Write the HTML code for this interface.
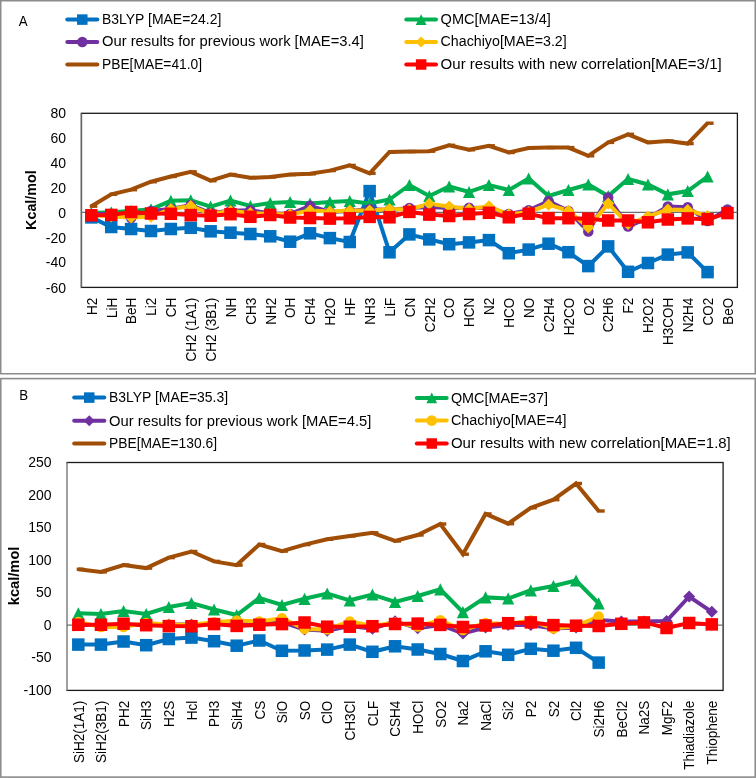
<!DOCTYPE html>
<html><head><meta charset="utf-8"><style>
html,body{margin:0;padding:0;background:#fff;}
svg{display:block;will-change:transform;}
</style></head><body>
<svg width="756" height="778" viewBox="0 0 756 778" font-family='"Liberation Sans", sans-serif'>
<rect width="756" height="778" fill="#fff"/>
<rect x="0.75" y="0.75" width="754.5" height="373" fill="none" stroke="#8C8C8C" stroke-width="1.5"/>
<rect x="0.75" y="378.6" width="754.5" height="398.5" fill="none" stroke="#8C8C8C" stroke-width="1.6"/>
<text x="0" y="0" font-size="13.3" transform="translate(18.7,25.8) scale(1,1.08)" >A</text>
<line x1="67.3" y1="19.6" x2="97.3" y2="19.6" stroke="#0070C0" stroke-width="4" stroke-linecap="round"/>
<rect x="77.05" y="14.35" width="10.5" height="10.5" fill="#0070C0"/>
<text x="102" y="23.8" font-size="14" textLength="119.4" lengthAdjust="spacingAndGlyphs" >B3LYP [MAE=24.2]</text>
<line x1="67.3" y1="42" x2="97.3" y2="42" stroke="#7030A0" stroke-width="4" stroke-linecap="round"/>
<circle cx="82.3" cy="42" r="5.3" fill="#7030A0"/>
<text x="102" y="46.2" font-size="14" textLength="261.9" lengthAdjust="spacingAndGlyphs" >Our results for previous work [MAE=3.4]</text>
<line x1="67.3" y1="64.5" x2="97.3" y2="64.5" stroke="#A04D06" stroke-width="4" stroke-linecap="round"/>
<text x="102" y="68.7" font-size="14" textLength="100.1" lengthAdjust="spacingAndGlyphs" >PBE[MAE=41.0]</text>
<line x1="406.3" y1="19.6" x2="436" y2="19.6" stroke="#00B050" stroke-width="4" stroke-linecap="round"/>
<polygon points="421.15,14.2 426.55,25 415.75,25" fill="#00B050"/>
<text x="440.6" y="23.8" font-size="14" textLength="110.2" lengthAdjust="spacingAndGlyphs" >QMC[MAE=13/4]</text>
<line x1="406.3" y1="42" x2="436" y2="42" stroke="#FFC000" stroke-width="4" stroke-linecap="round"/>
<polygon points="421.15,36.5 426.65,42 421.15,47.5 415.65,42" fill="#FFC000"/>
<text x="440.6" y="46.2" font-size="14" textLength="126.1" lengthAdjust="spacingAndGlyphs" >Chachiyo[MAE=3.2]</text>
<line x1="406.3" y1="64.5" x2="436" y2="64.5" stroke="#FF0000" stroke-width="4" stroke-linecap="round"/>
<rect x="415.9" y="59.25" width="10.5" height="10.5" fill="#FF0000"/>
<text x="440.6" y="68.7" font-size="14" textLength="281.1" lengthAdjust="spacingAndGlyphs" >Our results with new correlation[MAE=3/1]</text>
<text x="0" y="0" font-size="14" text-anchor="middle" font-weight="bold" textLength="59.6" lengthAdjust="spacingAndGlyphs" transform="translate(36.4,200.1) rotate(-90)" >Kcal/mol</text>
<rect x="81.4" y="113.3" width="656" height="174.1" fill="none" stroke="#1a1a1a" stroke-width="1.3"/>
<line x1="81.4" y1="114.3" x2="81.4" y2="286.4" stroke="#fff" stroke-width="1.6"/>
<line x1="81.4" y1="113.3" x2="81.4" y2="287.4" stroke="#666" stroke-width="1.5"/>
<line x1="81.4" y1="212.4" x2="737.4" y2="212.4" stroke="#6e6e6e" stroke-width="1.3"/>
<text x="0" y="0" font-size="14" text-anchor="end" transform="translate(66,118.4) scale(1,1.06)" >80</text>
<text x="0" y="0" font-size="14" text-anchor="end" transform="translate(66,143.3) scale(1,1.06)" >60</text>
<text x="0" y="0" font-size="14" text-anchor="end" transform="translate(66,168) scale(1,1.06)" >40</text>
<text x="0" y="0" font-size="14" text-anchor="end" transform="translate(66,192.9) scale(1,1.06)" >20</text>
<text x="0" y="0" font-size="14" text-anchor="end" transform="translate(66,217.7) scale(1,1.06)" >0</text>
<text x="0" y="0" font-size="14" text-anchor="end" transform="translate(66,242.6) scale(1,1.06)" >-20</text>
<text x="0" y="0" font-size="14" text-anchor="end" transform="translate(66,267.4) scale(1,1.06)" >-40</text>
<text x="0" y="0" font-size="14" text-anchor="end" transform="translate(66,292.5) scale(1,1.06)" >-60</text>
<text x="0" y="0" font-size="13.5" text-anchor="end" transform="translate(96.64,297.8) rotate(-90) scale(1,1.1)" >H2</text>
<text x="0" y="0" font-size="13.5" text-anchor="end" transform="translate(116.52,297.8) rotate(-90) scale(1,1.1)" >LiH</text>
<text x="0" y="0" font-size="13.5" text-anchor="end" transform="translate(136.4,297.8) rotate(-90) scale(1,1.1)" >BeH</text>
<text x="0" y="0" font-size="13.5" text-anchor="end" transform="translate(156.28,297.8) rotate(-90) scale(1,1.1)" >Li2</text>
<text x="0" y="0" font-size="13.5" text-anchor="end" transform="translate(176.15,297.8) rotate(-90) scale(1,1.1)" >CH</text>
<text x="0" y="0" font-size="13.5" text-anchor="end" transform="translate(196.03,297.8) rotate(-90) scale(1,1.1)" >CH2 (1A1)</text>
<text x="0" y="0" font-size="13.5" text-anchor="end" transform="translate(215.91,297.8) rotate(-90) scale(1,1.1)" >CH2 (3B1)</text>
<text x="0" y="0" font-size="13.5" text-anchor="end" transform="translate(235.79,297.8) rotate(-90) scale(1,1.1)" >NH</text>
<text x="0" y="0" font-size="13.5" text-anchor="end" transform="translate(255.67,297.8) rotate(-90) scale(1,1.1)" >CH3</text>
<text x="0" y="0" font-size="13.5" text-anchor="end" transform="translate(275.55,297.8) rotate(-90) scale(1,1.1)" >NH2</text>
<text x="0" y="0" font-size="13.5" text-anchor="end" transform="translate(295.43,297.8) rotate(-90) scale(1,1.1)" >OH</text>
<text x="0" y="0" font-size="13.5" text-anchor="end" transform="translate(315.31,297.8) rotate(-90) scale(1,1.1)" >CH4</text>
<text x="0" y="0" font-size="13.5" text-anchor="end" transform="translate(335.18,297.8) rotate(-90) scale(1,1.1)" >H2O</text>
<text x="0" y="0" font-size="13.5" text-anchor="end" transform="translate(355.06,297.8) rotate(-90) scale(1,1.1)" >HF</text>
<text x="0" y="0" font-size="13.5" text-anchor="end" transform="translate(374.94,297.8) rotate(-90) scale(1,1.1)" >NH3</text>
<text x="0" y="0" font-size="13.5" text-anchor="end" transform="translate(394.82,297.8) rotate(-90) scale(1,1.1)" >LiF</text>
<text x="0" y="0" font-size="13.5" text-anchor="end" transform="translate(414.7,297.8) rotate(-90) scale(1,1.1)" >CN</text>
<text x="0" y="0" font-size="13.5" text-anchor="end" transform="translate(434.58,297.8) rotate(-90) scale(1,1.1)" >C2H2</text>
<text x="0" y="0" font-size="13.5" text-anchor="end" transform="translate(454.46,297.8) rotate(-90) scale(1,1.1)" >CO</text>
<text x="0" y="0" font-size="13.5" text-anchor="end" transform="translate(474.34,297.8) rotate(-90) scale(1,1.1)" >HCN</text>
<text x="0" y="0" font-size="13.5" text-anchor="end" transform="translate(494.22,297.8) rotate(-90) scale(1,1.1)" >N2</text>
<text x="0" y="0" font-size="13.5" text-anchor="end" transform="translate(514.09,297.8) rotate(-90) scale(1,1.1)" >HCO</text>
<text x="0" y="0" font-size="13.5" text-anchor="end" transform="translate(533.97,297.8) rotate(-90) scale(1,1.1)" >NO</text>
<text x="0" y="0" font-size="13.5" text-anchor="end" transform="translate(553.85,297.8) rotate(-90) scale(1,1.1)" >C2H4</text>
<text x="0" y="0" font-size="13.5" text-anchor="end" transform="translate(573.73,297.8) rotate(-90) scale(1,1.1)" >H2CO</text>
<text x="0" y="0" font-size="13.5" text-anchor="end" transform="translate(593.61,297.8) rotate(-90) scale(1,1.1)" >O2</text>
<text x="0" y="0" font-size="13.5" text-anchor="end" transform="translate(613.49,297.8) rotate(-90) scale(1,1.1)" >C2H6</text>
<text x="0" y="0" font-size="13.5" text-anchor="end" transform="translate(633.37,297.8) rotate(-90) scale(1,1.1)" >F2</text>
<text x="0" y="0" font-size="13.5" text-anchor="end" transform="translate(653.25,297.8) rotate(-90) scale(1,1.1)" >H2O2</text>
<text x="0" y="0" font-size="13.5" text-anchor="end" transform="translate(673.12,297.8) rotate(-90) scale(1,1.1)" >H3COH</text>
<text x="0" y="0" font-size="13.5" text-anchor="end" transform="translate(693,297.8) rotate(-90) scale(1,1.1)" >N2H4</text>
<text x="0" y="0" font-size="13.5" text-anchor="end" transform="translate(712.88,297.8) rotate(-90) scale(1,1.1)" >CO2</text>
<text x="0" y="0" font-size="13.5" text-anchor="end" transform="translate(732.76,297.8) rotate(-90) scale(1,1.1)" >BeO</text>
<polyline points="91.34,217.4 111.22,227 131.1,229 150.98,231 170.85,229 190.73,227.8 210.61,231.3 230.49,232.7 250.37,234 270.25,236.3 290.13,241.7 310.01,233.3 329.88,238.1 349.76,242 369.64,191.1 389.52,252.3 409.4,234.4 429.28,239.4 449.16,244.2 469.04,242.4 488.92,240.1 508.79,253.2 528.67,249.6 548.55,243.7 568.43,252.2 588.31,266.1 608.19,246.4 628.07,271.8 647.95,263 667.82,254.6 687.7,252.4 707.58,272.1" fill="none" stroke="#0070C0" stroke-width="4" stroke-linejoin="miter" stroke-miterlimit="6" stroke-linecap="butt"/>
<polyline points="91.34,213 111.22,212.3 131.1,211 150.98,209.3 170.85,200.8 190.73,200.3 210.61,206.6 230.49,200.5 250.37,206 270.25,203 290.13,202 310.01,203.5 329.88,202 349.76,201 369.64,203.5 389.52,199.5 409.4,185 429.28,196 449.16,186.5 469.04,192 488.92,185 508.79,190 528.67,178.5 548.55,196 568.43,190 588.31,184.5 608.19,196 628.07,179 647.95,184.5 667.82,194.3 687.7,191 707.58,176.5" fill="none" stroke="#00B050" stroke-width="4" stroke-linejoin="miter" stroke-miterlimit="6" stroke-linecap="butt"/>
<polyline points="91.34,214 111.22,214 131.1,218 150.98,211 170.85,209 190.73,205 210.61,213 230.49,210.8 250.37,210.2 270.25,213.5 290.13,214 310.01,205.8 329.88,212 349.76,211 369.64,209 389.52,210 409.4,208 429.28,207 449.16,208 469.04,207.7 488.92,208 508.79,214 528.67,210.3 548.55,201.1 568.43,211 588.31,231.5 608.19,197.4 628.07,226.5 647.95,218 667.82,206.4 687.7,207.3 707.58,221 727.46,209.5" fill="none" stroke="#7030A0" stroke-width="4" stroke-linejoin="miter" stroke-miterlimit="6" stroke-linecap="butt"/>
<polyline points="91.34,215 111.22,216.5 131.1,217.5 150.98,216.8 170.85,209 190.73,206 210.61,214 230.49,211 250.37,213 270.25,214 290.13,214.5 310.01,210.5 329.88,211.5 349.76,210.5 369.64,210.5 389.52,209 409.4,209.5 429.28,203.8 449.16,206.5 469.04,209 488.92,206.2 508.79,214.5 528.67,212 548.55,204.7 568.43,210.8 588.31,227.5 608.19,203.6 628.07,224 647.95,216.5 667.82,209.5 687.7,210 707.58,216" fill="none" stroke="#FFC000" stroke-width="4" stroke-linejoin="miter" stroke-miterlimit="6" stroke-linecap="butt"/>
<polyline points="91.34,206.2 111.22,194.3 131.1,189.7 150.98,181.7 170.85,176.5 190.73,171.8 210.61,180.7 230.49,174.5 250.37,177.8 270.25,177 290.13,174.6 310.01,173.8 329.88,170.6 349.76,165.4 369.64,173.3 389.52,152 409.4,151.6 429.28,151.2 449.16,145.3 469.04,149.8 488.92,145.8 508.79,152.5 528.67,148 548.55,147.6 568.43,147.6 588.31,155.8 608.19,142.4 628.07,134.3 647.95,142.4 667.82,141 687.7,143.6 707.58,123.2" fill="none" stroke="#A04D06" stroke-width="4" stroke-linejoin="miter" stroke-miterlimit="6" stroke-linecap="butt"/>
<polyline points="91.34,215.3 111.22,214.9 131.1,212 150.98,213.5 170.85,213.8 190.73,215.1 210.61,215.7 230.49,214.2 250.37,216.8 270.25,215 290.13,217.5 310.01,218 329.88,218.6 349.76,218.3 369.64,216.9 389.52,217.3 409.4,211.9 429.28,214.6 449.16,216 469.04,214 488.92,212.8 508.79,217.3 528.67,213.7 548.55,218.2 568.43,218.2 588.31,218.7 608.19,220.5 628.07,220.5 647.95,222.3 667.82,219.5 687.7,218.4 707.58,219.2 727.46,213.1" fill="none" stroke="#FF0000" stroke-width="4" stroke-linejoin="miter" stroke-miterlimit="6" stroke-linecap="butt"/>
<rect x="85.09" y="211.15" width="12.5" height="12.5" fill="#0070C0"/>
<rect x="104.97" y="220.75" width="12.5" height="12.5" fill="#0070C0"/>
<rect x="124.85" y="222.75" width="12.5" height="12.5" fill="#0070C0"/>
<rect x="144.73" y="224.75" width="12.5" height="12.5" fill="#0070C0"/>
<rect x="164.6" y="222.75" width="12.5" height="12.5" fill="#0070C0"/>
<rect x="184.48" y="221.55" width="12.5" height="12.5" fill="#0070C0"/>
<rect x="204.36" y="225.05" width="12.5" height="12.5" fill="#0070C0"/>
<rect x="224.24" y="226.45" width="12.5" height="12.5" fill="#0070C0"/>
<rect x="244.12" y="227.75" width="12.5" height="12.5" fill="#0070C0"/>
<rect x="264" y="230.05" width="12.5" height="12.5" fill="#0070C0"/>
<rect x="283.88" y="235.45" width="12.5" height="12.5" fill="#0070C0"/>
<rect x="303.76" y="227.05" width="12.5" height="12.5" fill="#0070C0"/>
<rect x="323.63" y="231.85" width="12.5" height="12.5" fill="#0070C0"/>
<rect x="343.51" y="235.75" width="12.5" height="12.5" fill="#0070C0"/>
<rect x="363.39" y="184.85" width="12.5" height="12.5" fill="#0070C0"/>
<rect x="383.27" y="246.05" width="12.5" height="12.5" fill="#0070C0"/>
<rect x="403.15" y="228.15" width="12.5" height="12.5" fill="#0070C0"/>
<rect x="423.03" y="233.15" width="12.5" height="12.5" fill="#0070C0"/>
<rect x="442.91" y="237.95" width="12.5" height="12.5" fill="#0070C0"/>
<rect x="462.79" y="236.15" width="12.5" height="12.5" fill="#0070C0"/>
<rect x="482.67" y="233.85" width="12.5" height="12.5" fill="#0070C0"/>
<rect x="502.54" y="246.95" width="12.5" height="12.5" fill="#0070C0"/>
<rect x="522.42" y="243.35" width="12.5" height="12.5" fill="#0070C0"/>
<rect x="542.3" y="237.45" width="12.5" height="12.5" fill="#0070C0"/>
<rect x="562.18" y="245.95" width="12.5" height="12.5" fill="#0070C0"/>
<rect x="582.06" y="259.85" width="12.5" height="12.5" fill="#0070C0"/>
<rect x="601.94" y="240.15" width="12.5" height="12.5" fill="#0070C0"/>
<rect x="621.82" y="265.55" width="12.5" height="12.5" fill="#0070C0"/>
<rect x="641.7" y="256.75" width="12.5" height="12.5" fill="#0070C0"/>
<rect x="661.57" y="248.35" width="12.5" height="12.5" fill="#0070C0"/>
<rect x="681.45" y="246.15" width="12.5" height="12.5" fill="#0070C0"/>
<rect x="701.33" y="265.85" width="12.5" height="12.5" fill="#0070C0"/>
<polygon points="91.34,206.9 97.44,219.1 85.24,219.1" fill="#00B050"/>
<polygon points="111.22,206.2 117.32,218.4 105.12,218.4" fill="#00B050"/>
<polygon points="131.1,204.9 137.2,217.1 125,217.1" fill="#00B050"/>
<polygon points="150.98,203.2 157.08,215.4 144.88,215.4" fill="#00B050"/>
<polygon points="170.85,194.7 176.95,206.9 164.75,206.9" fill="#00B050"/>
<polygon points="190.73,194.2 196.83,206.4 184.63,206.4" fill="#00B050"/>
<polygon points="210.61,200.5 216.71,212.7 204.51,212.7" fill="#00B050"/>
<polygon points="230.49,194.4 236.59,206.6 224.39,206.6" fill="#00B050"/>
<polygon points="250.37,199.9 256.47,212.1 244.27,212.1" fill="#00B050"/>
<polygon points="270.25,196.9 276.35,209.1 264.15,209.1" fill="#00B050"/>
<polygon points="290.13,195.9 296.23,208.1 284.03,208.1" fill="#00B050"/>
<polygon points="310.01,197.4 316.11,209.6 303.91,209.6" fill="#00B050"/>
<polygon points="329.88,195.9 335.98,208.1 323.78,208.1" fill="#00B050"/>
<polygon points="349.76,194.9 355.86,207.1 343.66,207.1" fill="#00B050"/>
<polygon points="369.64,197.4 375.74,209.6 363.54,209.6" fill="#00B050"/>
<polygon points="389.52,193.4 395.62,205.6 383.42,205.6" fill="#00B050"/>
<polygon points="409.4,178.9 415.5,191.1 403.3,191.1" fill="#00B050"/>
<polygon points="429.28,189.9 435.38,202.1 423.18,202.1" fill="#00B050"/>
<polygon points="449.16,180.4 455.26,192.6 443.06,192.6" fill="#00B050"/>
<polygon points="469.04,185.9 475.14,198.1 462.94,198.1" fill="#00B050"/>
<polygon points="488.92,178.9 495.02,191.1 482.82,191.1" fill="#00B050"/>
<polygon points="508.79,183.9 514.89,196.1 502.69,196.1" fill="#00B050"/>
<polygon points="528.67,172.4 534.77,184.6 522.57,184.6" fill="#00B050"/>
<polygon points="548.55,189.9 554.65,202.1 542.45,202.1" fill="#00B050"/>
<polygon points="568.43,183.9 574.53,196.1 562.33,196.1" fill="#00B050"/>
<polygon points="588.31,178.4 594.41,190.6 582.21,190.6" fill="#00B050"/>
<polygon points="608.19,189.9 614.29,202.1 602.09,202.1" fill="#00B050"/>
<polygon points="628.07,172.9 634.17,185.1 621.97,185.1" fill="#00B050"/>
<polygon points="647.95,178.4 654.05,190.6 641.85,190.6" fill="#00B050"/>
<polygon points="667.82,188.2 673.92,200.4 661.72,200.4" fill="#00B050"/>
<polygon points="687.7,184.9 693.8,197.1 681.6,197.1" fill="#00B050"/>
<polygon points="707.58,170.4 713.68,182.6 701.48,182.6" fill="#00B050"/>
<circle cx="91.34" cy="214" r="5.25" fill="#7030A0"/>
<circle cx="111.22" cy="214" r="5.25" fill="#7030A0"/>
<circle cx="131.1" cy="218" r="5.25" fill="#7030A0"/>
<circle cx="150.98" cy="211" r="5.25" fill="#7030A0"/>
<circle cx="170.85" cy="209" r="5.25" fill="#7030A0"/>
<circle cx="190.73" cy="205" r="5.25" fill="#7030A0"/>
<circle cx="210.61" cy="213" r="5.25" fill="#7030A0"/>
<circle cx="230.49" cy="210.8" r="5.25" fill="#7030A0"/>
<circle cx="250.37" cy="210.2" r="5.25" fill="#7030A0"/>
<circle cx="270.25" cy="213.5" r="5.25" fill="#7030A0"/>
<circle cx="290.13" cy="214" r="5.25" fill="#7030A0"/>
<circle cx="310.01" cy="205.8" r="5.25" fill="#7030A0"/>
<circle cx="329.88" cy="212" r="5.25" fill="#7030A0"/>
<circle cx="349.76" cy="211" r="5.25" fill="#7030A0"/>
<circle cx="369.64" cy="209" r="5.25" fill="#7030A0"/>
<circle cx="389.52" cy="210" r="5.25" fill="#7030A0"/>
<circle cx="409.4" cy="208" r="5.25" fill="#7030A0"/>
<circle cx="429.28" cy="207" r="5.25" fill="#7030A0"/>
<circle cx="449.16" cy="208" r="5.25" fill="#7030A0"/>
<circle cx="469.04" cy="207.7" r="5.25" fill="#7030A0"/>
<circle cx="488.92" cy="208" r="5.25" fill="#7030A0"/>
<circle cx="508.79" cy="214" r="5.25" fill="#7030A0"/>
<circle cx="528.67" cy="210.3" r="5.25" fill="#7030A0"/>
<circle cx="548.55" cy="201.1" r="5.25" fill="#7030A0"/>
<circle cx="568.43" cy="211" r="5.25" fill="#7030A0"/>
<circle cx="588.31" cy="231.5" r="5.25" fill="#7030A0"/>
<circle cx="608.19" cy="197.4" r="5.25" fill="#7030A0"/>
<circle cx="628.07" cy="226.5" r="5.25" fill="#7030A0"/>
<circle cx="647.95" cy="218" r="5.25" fill="#7030A0"/>
<circle cx="667.82" cy="206.4" r="5.25" fill="#7030A0"/>
<circle cx="687.7" cy="207.3" r="5.25" fill="#7030A0"/>
<circle cx="707.58" cy="221" r="5.25" fill="#7030A0"/>
<circle cx="727.46" cy="209.5" r="5.25" fill="#7030A0"/>
<polygon points="91.34,209 97.34,215 91.34,221 85.34,215" fill="#FFC000"/>
<polygon points="111.22,210.5 117.22,216.5 111.22,222.5 105.22,216.5" fill="#FFC000"/>
<polygon points="131.1,211.5 137.1,217.5 131.1,223.5 125.1,217.5" fill="#FFC000"/>
<polygon points="150.98,210.8 156.98,216.8 150.98,222.8 144.98,216.8" fill="#FFC000"/>
<polygon points="170.85,203 176.85,209 170.85,215 164.85,209" fill="#FFC000"/>
<polygon points="190.73,200 196.73,206 190.73,212 184.73,206" fill="#FFC000"/>
<polygon points="210.61,208 216.61,214 210.61,220 204.61,214" fill="#FFC000"/>
<polygon points="230.49,205 236.49,211 230.49,217 224.49,211" fill="#FFC000"/>
<polygon points="250.37,207 256.37,213 250.37,219 244.37,213" fill="#FFC000"/>
<polygon points="270.25,208 276.25,214 270.25,220 264.25,214" fill="#FFC000"/>
<polygon points="290.13,208.5 296.13,214.5 290.13,220.5 284.13,214.5" fill="#FFC000"/>
<polygon points="310.01,204.5 316.01,210.5 310.01,216.5 304.01,210.5" fill="#FFC000"/>
<polygon points="329.88,205.5 335.88,211.5 329.88,217.5 323.88,211.5" fill="#FFC000"/>
<polygon points="349.76,204.5 355.76,210.5 349.76,216.5 343.76,210.5" fill="#FFC000"/>
<polygon points="369.64,204.5 375.64,210.5 369.64,216.5 363.64,210.5" fill="#FFC000"/>
<polygon points="389.52,203 395.52,209 389.52,215 383.52,209" fill="#FFC000"/>
<polygon points="409.4,203.5 415.4,209.5 409.4,215.5 403.4,209.5" fill="#FFC000"/>
<polygon points="429.28,197.8 435.28,203.8 429.28,209.8 423.28,203.8" fill="#FFC000"/>
<polygon points="449.16,200.5 455.16,206.5 449.16,212.5 443.16,206.5" fill="#FFC000"/>
<polygon points="469.04,203 475.04,209 469.04,215 463.04,209" fill="#FFC000"/>
<polygon points="488.92,200.2 494.92,206.2 488.92,212.2 482.92,206.2" fill="#FFC000"/>
<polygon points="508.79,208.5 514.79,214.5 508.79,220.5 502.79,214.5" fill="#FFC000"/>
<polygon points="528.67,206 534.67,212 528.67,218 522.67,212" fill="#FFC000"/>
<polygon points="548.55,198.7 554.55,204.7 548.55,210.7 542.55,204.7" fill="#FFC000"/>
<polygon points="568.43,204.8 574.43,210.8 568.43,216.8 562.43,210.8" fill="#FFC000"/>
<polygon points="588.31,221.5 594.31,227.5 588.31,233.5 582.31,227.5" fill="#FFC000"/>
<polygon points="608.19,197.6 614.19,203.6 608.19,209.6 602.19,203.6" fill="#FFC000"/>
<polygon points="628.07,218 634.07,224 628.07,230 622.07,224" fill="#FFC000"/>
<polygon points="647.95,210.5 653.95,216.5 647.95,222.5 641.95,216.5" fill="#FFC000"/>
<polygon points="667.82,203.5 673.82,209.5 667.82,215.5 661.82,209.5" fill="#FFC000"/>
<polygon points="687.7,204 693.7,210 687.7,216 681.7,210" fill="#FFC000"/>
<polygon points="707.58,210 713.58,216 707.58,222 701.58,216" fill="#FFC000"/>
<rect x="89.74" y="204.5" width="7.6" height="3.4" fill="#A04D06"/>
<rect x="109.62" y="192.6" width="7.6" height="3.4" fill="#A04D06"/>
<rect x="129.5" y="188" width="7.6" height="3.4" fill="#A04D06"/>
<rect x="149.38" y="180" width="7.6" height="3.4" fill="#A04D06"/>
<rect x="169.25" y="174.8" width="7.6" height="3.4" fill="#A04D06"/>
<rect x="189.13" y="170.1" width="7.6" height="3.4" fill="#A04D06"/>
<rect x="209.01" y="179" width="7.6" height="3.4" fill="#A04D06"/>
<rect x="228.89" y="172.8" width="7.6" height="3.4" fill="#A04D06"/>
<rect x="248.77" y="176.1" width="7.6" height="3.4" fill="#A04D06"/>
<rect x="268.65" y="175.3" width="7.6" height="3.4" fill="#A04D06"/>
<rect x="288.53" y="172.9" width="7.6" height="3.4" fill="#A04D06"/>
<rect x="308.41" y="172.1" width="7.6" height="3.4" fill="#A04D06"/>
<rect x="328.28" y="168.9" width="7.6" height="3.4" fill="#A04D06"/>
<rect x="348.16" y="163.7" width="7.6" height="3.4" fill="#A04D06"/>
<rect x="368.04" y="171.6" width="7.6" height="3.4" fill="#A04D06"/>
<rect x="387.92" y="150.3" width="7.6" height="3.4" fill="#A04D06"/>
<rect x="407.8" y="149.9" width="7.6" height="3.4" fill="#A04D06"/>
<rect x="427.68" y="149.5" width="7.6" height="3.4" fill="#A04D06"/>
<rect x="447.56" y="143.6" width="7.6" height="3.4" fill="#A04D06"/>
<rect x="467.44" y="148.1" width="7.6" height="3.4" fill="#A04D06"/>
<rect x="487.32" y="144.1" width="7.6" height="3.4" fill="#A04D06"/>
<rect x="507.19" y="150.8" width="7.6" height="3.4" fill="#A04D06"/>
<rect x="527.07" y="146.3" width="7.6" height="3.4" fill="#A04D06"/>
<rect x="546.95" y="145.9" width="7.6" height="3.4" fill="#A04D06"/>
<rect x="566.83" y="145.9" width="7.6" height="3.4" fill="#A04D06"/>
<rect x="586.71" y="154.1" width="7.6" height="3.4" fill="#A04D06"/>
<rect x="606.59" y="140.7" width="7.6" height="3.4" fill="#A04D06"/>
<rect x="626.47" y="132.6" width="7.6" height="3.4" fill="#A04D06"/>
<rect x="646.35" y="140.7" width="7.6" height="3.4" fill="#A04D06"/>
<rect x="666.22" y="139.3" width="7.6" height="3.4" fill="#A04D06"/>
<rect x="686.1" y="141.9" width="7.6" height="3.4" fill="#A04D06"/>
<rect x="705.98" y="121.5" width="7.6" height="3.4" fill="#A04D06"/>
<rect x="85.09" y="209.05" width="12.5" height="12.5" fill="#FF0000"/>
<rect x="104.97" y="208.65" width="12.5" height="12.5" fill="#FF0000"/>
<rect x="124.85" y="205.75" width="12.5" height="12.5" fill="#FF0000"/>
<rect x="144.73" y="207.25" width="12.5" height="12.5" fill="#FF0000"/>
<rect x="164.6" y="207.55" width="12.5" height="12.5" fill="#FF0000"/>
<rect x="184.48" y="208.85" width="12.5" height="12.5" fill="#FF0000"/>
<rect x="204.36" y="209.45" width="12.5" height="12.5" fill="#FF0000"/>
<rect x="224.24" y="207.95" width="12.5" height="12.5" fill="#FF0000"/>
<rect x="244.12" y="210.55" width="12.5" height="12.5" fill="#FF0000"/>
<rect x="264" y="208.75" width="12.5" height="12.5" fill="#FF0000"/>
<rect x="283.88" y="211.25" width="12.5" height="12.5" fill="#FF0000"/>
<rect x="303.76" y="211.75" width="12.5" height="12.5" fill="#FF0000"/>
<rect x="323.63" y="212.35" width="12.5" height="12.5" fill="#FF0000"/>
<rect x="343.51" y="212.05" width="12.5" height="12.5" fill="#FF0000"/>
<rect x="363.39" y="210.65" width="12.5" height="12.5" fill="#FF0000"/>
<rect x="383.27" y="211.05" width="12.5" height="12.5" fill="#FF0000"/>
<rect x="403.15" y="205.65" width="12.5" height="12.5" fill="#FF0000"/>
<rect x="423.03" y="208.35" width="12.5" height="12.5" fill="#FF0000"/>
<rect x="442.91" y="209.75" width="12.5" height="12.5" fill="#FF0000"/>
<rect x="462.79" y="207.75" width="12.5" height="12.5" fill="#FF0000"/>
<rect x="482.67" y="206.55" width="12.5" height="12.5" fill="#FF0000"/>
<rect x="502.54" y="211.05" width="12.5" height="12.5" fill="#FF0000"/>
<rect x="522.42" y="207.45" width="12.5" height="12.5" fill="#FF0000"/>
<rect x="542.3" y="211.95" width="12.5" height="12.5" fill="#FF0000"/>
<rect x="562.18" y="211.95" width="12.5" height="12.5" fill="#FF0000"/>
<rect x="582.06" y="212.45" width="12.5" height="12.5" fill="#FF0000"/>
<rect x="601.94" y="214.25" width="12.5" height="12.5" fill="#FF0000"/>
<rect x="621.82" y="214.25" width="12.5" height="12.5" fill="#FF0000"/>
<rect x="641.7" y="216.05" width="12.5" height="12.5" fill="#FF0000"/>
<rect x="661.57" y="213.25" width="12.5" height="12.5" fill="#FF0000"/>
<rect x="681.45" y="212.15" width="12.5" height="12.5" fill="#FF0000"/>
<rect x="701.33" y="212.95" width="12.5" height="12.5" fill="#FF0000"/>
<rect x="721.21" y="206.85" width="12.5" height="12.5" fill="#FF0000"/>
<text x="0" y="0" font-size="13.3" transform="translate(19.2,399.5) scale(1,1.08)" >B</text>
<line x1="74.2" y1="397.6" x2="104.3" y2="397.6" stroke="#0070C0" stroke-width="4" stroke-linecap="round"/>
<rect x="84" y="392.35" width="10.5" height="10.5" fill="#0070C0"/>
<text x="109" y="402.4" font-size="14" textLength="119.1" lengthAdjust="spacingAndGlyphs" >B3LYP [MAE=35.3]</text>
<line x1="74.2" y1="420.7" x2="104.3" y2="420.7" stroke="#7030A0" stroke-width="4" stroke-linecap="round"/>
<polygon points="89.25,415.2 94.75,420.7 89.25,426.2 83.75,420.7" fill="#7030A0"/>
<text x="109" y="425.5" font-size="14" textLength="262.4" lengthAdjust="spacingAndGlyphs" >Our results for previous work [MAE=4.5]</text>
<line x1="74.2" y1="443.5" x2="104.3" y2="443.5" stroke="#A04D06" stroke-width="4" stroke-linecap="round"/>
<text x="109" y="448.3" font-size="14" textLength="108.1" lengthAdjust="spacingAndGlyphs" >PBE[MAE=130.6]</text>
<line x1="416.8" y1="397.9" x2="446.7" y2="397.9" stroke="#00B050" stroke-width="4" stroke-linecap="round"/>
<polygon points="431.75,392.5 437.15,403.3 426.35,403.3" fill="#00B050"/>
<text x="450.9" y="402.7" font-size="14" textLength="97.1" lengthAdjust="spacingAndGlyphs" >QMC[MAE=37]</text>
<line x1="416.8" y1="420.6" x2="446.7" y2="420.6" stroke="#FFC000" stroke-width="4" stroke-linecap="round"/>
<circle cx="431.75" cy="420.6" r="5.3" fill="#FFC000"/>
<text x="450.9" y="425.4" font-size="14" textLength="115.5" lengthAdjust="spacingAndGlyphs" >Chachiyo[MAE=4]</text>
<line x1="416.8" y1="443.5" x2="446.7" y2="443.5" stroke="#FF0000" stroke-width="4" stroke-linecap="round"/>
<rect x="426.5" y="438.25" width="10.5" height="10.5" fill="#FF0000"/>
<text x="450.9" y="448.3" font-size="14" textLength="279.9" lengthAdjust="spacingAndGlyphs" >Our results with new correlation[MAE=1.8]</text>
<text x="0" y="0" font-size="14" text-anchor="middle" font-weight="bold" textLength="58.6" lengthAdjust="spacingAndGlyphs" transform="translate(18.7,575.9) rotate(-90)" >kcal/mol</text>
<rect x="67" y="462.5" width="656.1" height="227.9" fill="none" stroke="#1a1a1a" stroke-width="1.3"/>
<line x1="67" y1="463.5" x2="67" y2="689.4" stroke="#fff" stroke-width="1.6"/>
<line x1="67" y1="462.5" x2="67" y2="690.4" stroke="#8a8a8a" stroke-width="1.5"/>
<line x1="67" y1="625.1" x2="723.1" y2="625.1" stroke="#6e6e6e" stroke-width="1.3"/>
<text x="0" y="0" font-size="14" text-anchor="end" transform="translate(51.5,467.3) scale(1,1.06)" >250</text>
<text x="0" y="0" font-size="14" text-anchor="end" transform="translate(51.5,499.7) scale(1,1.06)" >200</text>
<text x="0" y="0" font-size="14" text-anchor="end" transform="translate(51.5,532.1) scale(1,1.06)" >150</text>
<text x="0" y="0" font-size="14" text-anchor="end" transform="translate(51.5,564.7) scale(1,1.06)" >100</text>
<text x="0" y="0" font-size="14" text-anchor="end" transform="translate(51.5,597.3) scale(1,1.06)" >50</text>
<text x="0" y="0" font-size="14" text-anchor="end" transform="translate(51.5,630) scale(1,1.06)" >0</text>
<text x="0" y="0" font-size="14" text-anchor="end" transform="translate(51.5,662.4) scale(1,1.06)" >-50</text>
<text x="0" y="0" font-size="14" text-anchor="end" transform="translate(51.5,694.9) scale(1,1.06)" >-100</text>
<text x="0" y="0" font-size="13.5" text-anchor="end" transform="translate(83.61,700.8) rotate(-90) scale(1,1.1)" >SiH2(1A1)</text>
<text x="0" y="0" font-size="13.5" text-anchor="end" transform="translate(106.24,700.8) rotate(-90) scale(1,1.1)" >SiH2(3B1)</text>
<text x="0" y="0" font-size="13.5" text-anchor="end" transform="translate(128.86,700.8) rotate(-90) scale(1,1.1)" >PH2</text>
<text x="0" y="0" font-size="13.5" text-anchor="end" transform="translate(151.48,700.8) rotate(-90) scale(1,1.1)" >SiH3</text>
<text x="0" y="0" font-size="13.5" text-anchor="end" transform="translate(174.11,700.8) rotate(-90) scale(1,1.1)" >H2S</text>
<text x="0" y="0" font-size="13.5" text-anchor="end" transform="translate(196.73,700.8) rotate(-90) scale(1,1.1)" >Hcl</text>
<text x="0" y="0" font-size="13.5" text-anchor="end" transform="translate(219.36,700.8) rotate(-90) scale(1,1.1)" >PH3</text>
<text x="0" y="0" font-size="13.5" text-anchor="end" transform="translate(241.98,700.8) rotate(-90) scale(1,1.1)" >SiH4</text>
<text x="0" y="0" font-size="13.5" text-anchor="end" transform="translate(264.61,700.8) rotate(-90) scale(1,1.1)" >CS</text>
<text x="0" y="0" font-size="13.5" text-anchor="end" transform="translate(287.23,700.8) rotate(-90) scale(1,1.1)" >SiO</text>
<text x="0" y="0" font-size="13.5" text-anchor="end" transform="translate(309.85,700.8) rotate(-90) scale(1,1.1)" >SO</text>
<text x="0" y="0" font-size="13.5" text-anchor="end" transform="translate(332.48,700.8) rotate(-90) scale(1,1.1)" >ClO</text>
<text x="0" y="0" font-size="13.5" text-anchor="end" transform="translate(355.1,700.8) rotate(-90) scale(1,1.1)" >CH3Cl</text>
<text x="0" y="0" font-size="13.5" text-anchor="end" transform="translate(377.73,700.8) rotate(-90) scale(1,1.1)" >CLF</text>
<text x="0" y="0" font-size="13.5" text-anchor="end" transform="translate(400.35,700.8) rotate(-90) scale(1,1.1)" >CSH4</text>
<text x="0" y="0" font-size="13.5" text-anchor="end" transform="translate(422.97,700.8) rotate(-90) scale(1,1.1)" >HOCl</text>
<text x="0" y="0" font-size="13.5" text-anchor="end" transform="translate(445.6,700.8) rotate(-90) scale(1,1.1)" >SO2</text>
<text x="0" y="0" font-size="13.5" text-anchor="end" transform="translate(468.22,700.8) rotate(-90) scale(1,1.1)" >Na2</text>
<text x="0" y="0" font-size="13.5" text-anchor="end" transform="translate(490.85,700.8) rotate(-90) scale(1,1.1)" >NaCl</text>
<text x="0" y="0" font-size="13.5" text-anchor="end" transform="translate(513.47,700.8) rotate(-90) scale(1,1.1)" >Si2</text>
<text x="0" y="0" font-size="13.5" text-anchor="end" transform="translate(536.09,700.8) rotate(-90) scale(1,1.1)" >P2</text>
<text x="0" y="0" font-size="13.5" text-anchor="end" transform="translate(558.72,700.8) rotate(-90) scale(1,1.1)" >S2</text>
<text x="0" y="0" font-size="13.5" text-anchor="end" transform="translate(581.34,700.8) rotate(-90) scale(1,1.1)" >Cl2</text>
<text x="0" y="0" font-size="13.5" text-anchor="end" transform="translate(603.97,700.8) rotate(-90) scale(1,1.1)" >Si2H6</text>
<text x="0" y="0" font-size="13.5" text-anchor="end" transform="translate(626.59,700.8) rotate(-90) scale(1,1.1)" >BeCl2</text>
<text x="0" y="0" font-size="13.5" text-anchor="end" transform="translate(649.22,700.8) rotate(-90) scale(1,1.1)" >Na2S</text>
<text x="0" y="0" font-size="13.5" text-anchor="end" transform="translate(671.84,700.8) rotate(-90) scale(1,1.1)" >MgF2</text>
<text x="0" y="0" font-size="13.5" text-anchor="end" transform="translate(694.46,700.8) rotate(-90) scale(1,1.1)" >Thiadiazole</text>
<text x="0" y="0" font-size="13.5" text-anchor="end" transform="translate(717.09,700.8) rotate(-90) scale(1,1.1)" >Thiophene</text>
<polyline points="78.31,644.6 100.94,644.6 123.56,641.5 146.18,645.2 168.81,639 191.43,637.6 214.06,641.2 236.68,645.7 259.31,640.5 281.93,650.8 304.55,650.5 327.18,649.6 349.8,644.6 372.43,651.8 395.05,646.3 417.67,649.5 440.3,654 462.92,661 485.55,651.3 508.17,654.8 530.79,648.8 553.42,650.7 576.04,647.8 598.67,662.6" fill="none" stroke="#0070C0" stroke-width="4" stroke-linejoin="miter" stroke-miterlimit="6" stroke-linecap="butt"/>
<polyline points="78.31,613.3 100.94,614 123.56,611 146.18,614 168.81,607 191.43,603 214.06,609.5 236.68,615 259.31,598 281.93,605 304.55,598.8 327.18,593.5 349.8,600.3 372.43,594.5 395.05,602 417.67,596 440.3,589.3 462.92,612.2 485.55,597.4 508.17,598.5 530.79,590.3 553.42,586 576.04,580.5 598.67,603.3" fill="none" stroke="#00B050" stroke-width="4" stroke-linejoin="miter" stroke-miterlimit="6" stroke-linecap="butt"/>
<polyline points="78.31,625 100.94,625 123.56,625 146.18,625 168.81,624.5 191.43,624.5 214.06,624 236.68,622 259.31,622.5 281.93,622 304.55,629.4 327.18,630.7 349.8,626 372.43,628.7 395.05,621.3 417.67,628.3 440.3,625 462.92,633.5 485.55,627.5 508.17,625 530.79,625 553.42,628.6 576.04,627.4 598.67,620 621.29,621.5 643.92,621.5 666.54,621 689.16,596.5 711.79,611.8" fill="none" stroke="#7030A0" stroke-width="4" stroke-linejoin="miter" stroke-miterlimit="6" stroke-linecap="butt"/>
<polyline points="78.31,622 100.94,627 123.56,627 146.18,622.9 168.81,624.5 191.43,624.8 214.06,622.3 236.68,620.6 259.31,621.4 281.93,618.3 304.55,628.9 327.18,629.4 349.8,621.4 372.43,626 395.05,622.5 417.67,626.5 440.3,620.2 462.92,630 485.55,622.9 508.17,624 530.79,620.5 553.42,628.5 576.04,626 598.67,616.4" fill="none" stroke="#FFC000" stroke-width="4" stroke-linejoin="miter" stroke-miterlimit="6" stroke-linecap="butt"/>
<polyline points="78.31,569.3 100.94,571.9 123.56,565 146.18,568.1 168.81,557.6 191.43,551.5 214.06,561.4 236.68,565.1 259.31,544.5 281.93,551.1 304.55,544.6 327.18,539.3 349.8,536 372.43,532.8 395.05,541 417.67,535 440.3,524 462.92,554.2 485.55,513.9 508.17,523.7 530.79,507.8 553.42,499.7 576.04,483.5 598.67,511" fill="none" stroke="#A04D06" stroke-width="4" stroke-linejoin="miter" stroke-miterlimit="6" stroke-linecap="butt"/>
<polyline points="78.31,624.8 100.94,624.8 123.56,623.7 146.18,625.2 168.81,626.1 191.43,626.2 214.06,624.1 236.68,625.9 259.31,624.7 281.93,624.1 304.55,622.5 327.18,626.7 349.8,626.7 372.43,626.2 395.05,624 417.67,623.6 440.3,624.9 462.92,627 485.55,625.5 508.17,623.2 530.79,622.4 553.42,625.1 576.04,625.7 598.67,626 621.29,623.8 643.92,622.4 666.54,628 689.16,623 711.79,624.4" fill="none" stroke="#FF0000" stroke-width="4" stroke-linejoin="miter" stroke-miterlimit="6" stroke-linecap="butt"/>
<rect x="72.06" y="638.35" width="12.5" height="12.5" fill="#0070C0"/>
<rect x="94.69" y="638.35" width="12.5" height="12.5" fill="#0070C0"/>
<rect x="117.31" y="635.25" width="12.5" height="12.5" fill="#0070C0"/>
<rect x="139.93" y="638.95" width="12.5" height="12.5" fill="#0070C0"/>
<rect x="162.56" y="632.75" width="12.5" height="12.5" fill="#0070C0"/>
<rect x="185.18" y="631.35" width="12.5" height="12.5" fill="#0070C0"/>
<rect x="207.81" y="634.95" width="12.5" height="12.5" fill="#0070C0"/>
<rect x="230.43" y="639.45" width="12.5" height="12.5" fill="#0070C0"/>
<rect x="253.06" y="634.25" width="12.5" height="12.5" fill="#0070C0"/>
<rect x="275.68" y="644.55" width="12.5" height="12.5" fill="#0070C0"/>
<rect x="298.3" y="644.25" width="12.5" height="12.5" fill="#0070C0"/>
<rect x="320.93" y="643.35" width="12.5" height="12.5" fill="#0070C0"/>
<rect x="343.55" y="638.35" width="12.5" height="12.5" fill="#0070C0"/>
<rect x="366.18" y="645.55" width="12.5" height="12.5" fill="#0070C0"/>
<rect x="388.8" y="640.05" width="12.5" height="12.5" fill="#0070C0"/>
<rect x="411.42" y="643.25" width="12.5" height="12.5" fill="#0070C0"/>
<rect x="434.05" y="647.75" width="12.5" height="12.5" fill="#0070C0"/>
<rect x="456.67" y="654.75" width="12.5" height="12.5" fill="#0070C0"/>
<rect x="479.3" y="645.05" width="12.5" height="12.5" fill="#0070C0"/>
<rect x="501.92" y="648.55" width="12.5" height="12.5" fill="#0070C0"/>
<rect x="524.54" y="642.55" width="12.5" height="12.5" fill="#0070C0"/>
<rect x="547.17" y="644.45" width="12.5" height="12.5" fill="#0070C0"/>
<rect x="569.79" y="641.55" width="12.5" height="12.5" fill="#0070C0"/>
<rect x="592.42" y="656.35" width="12.5" height="12.5" fill="#0070C0"/>
<polygon points="78.31,607.2 84.41,619.4 72.21,619.4" fill="#00B050"/>
<polygon points="100.94,607.9 107.04,620.1 94.84,620.1" fill="#00B050"/>
<polygon points="123.56,604.9 129.66,617.1 117.46,617.1" fill="#00B050"/>
<polygon points="146.18,607.9 152.28,620.1 140.08,620.1" fill="#00B050"/>
<polygon points="168.81,600.9 174.91,613.1 162.71,613.1" fill="#00B050"/>
<polygon points="191.43,596.9 197.53,609.1 185.33,609.1" fill="#00B050"/>
<polygon points="214.06,603.4 220.16,615.6 207.96,615.6" fill="#00B050"/>
<polygon points="236.68,608.9 242.78,621.1 230.58,621.1" fill="#00B050"/>
<polygon points="259.31,591.9 265.41,604.1 253.21,604.1" fill="#00B050"/>
<polygon points="281.93,598.9 288.03,611.1 275.83,611.1" fill="#00B050"/>
<polygon points="304.55,592.7 310.65,604.9 298.45,604.9" fill="#00B050"/>
<polygon points="327.18,587.4 333.28,599.6 321.08,599.6" fill="#00B050"/>
<polygon points="349.8,594.2 355.9,606.4 343.7,606.4" fill="#00B050"/>
<polygon points="372.43,588.4 378.53,600.6 366.33,600.6" fill="#00B050"/>
<polygon points="395.05,595.9 401.15,608.1 388.95,608.1" fill="#00B050"/>
<polygon points="417.67,589.9 423.77,602.1 411.57,602.1" fill="#00B050"/>
<polygon points="440.3,583.2 446.4,595.4 434.2,595.4" fill="#00B050"/>
<polygon points="462.92,606.1 469.02,618.3 456.82,618.3" fill="#00B050"/>
<polygon points="485.55,591.3 491.65,603.5 479.45,603.5" fill="#00B050"/>
<polygon points="508.17,592.4 514.27,604.6 502.07,604.6" fill="#00B050"/>
<polygon points="530.79,584.2 536.89,596.4 524.69,596.4" fill="#00B050"/>
<polygon points="553.42,579.9 559.52,592.1 547.32,592.1" fill="#00B050"/>
<polygon points="576.04,574.4 582.14,586.6 569.94,586.6" fill="#00B050"/>
<polygon points="598.67,597.2 604.77,609.4 592.57,609.4" fill="#00B050"/>
<polygon points="78.31,619 84.31,625 78.31,631 72.31,625" fill="#7030A0"/>
<polygon points="100.94,619 106.94,625 100.94,631 94.94,625" fill="#7030A0"/>
<polygon points="123.56,619 129.56,625 123.56,631 117.56,625" fill="#7030A0"/>
<polygon points="146.18,619 152.18,625 146.18,631 140.18,625" fill="#7030A0"/>
<polygon points="168.81,618.5 174.81,624.5 168.81,630.5 162.81,624.5" fill="#7030A0"/>
<polygon points="191.43,618.5 197.43,624.5 191.43,630.5 185.43,624.5" fill="#7030A0"/>
<polygon points="214.06,618 220.06,624 214.06,630 208.06,624" fill="#7030A0"/>
<polygon points="236.68,616 242.68,622 236.68,628 230.68,622" fill="#7030A0"/>
<polygon points="259.31,616.5 265.31,622.5 259.31,628.5 253.31,622.5" fill="#7030A0"/>
<polygon points="281.93,616 287.93,622 281.93,628 275.93,622" fill="#7030A0"/>
<polygon points="304.55,623.4 310.55,629.4 304.55,635.4 298.55,629.4" fill="#7030A0"/>
<polygon points="327.18,624.7 333.18,630.7 327.18,636.7 321.18,630.7" fill="#7030A0"/>
<polygon points="349.8,620 355.8,626 349.8,632 343.8,626" fill="#7030A0"/>
<polygon points="372.43,622.7 378.43,628.7 372.43,634.7 366.43,628.7" fill="#7030A0"/>
<polygon points="395.05,615.3 401.05,621.3 395.05,627.3 389.05,621.3" fill="#7030A0"/>
<polygon points="417.67,622.3 423.67,628.3 417.67,634.3 411.67,628.3" fill="#7030A0"/>
<polygon points="440.3,619 446.3,625 440.3,631 434.3,625" fill="#7030A0"/>
<polygon points="462.92,627.5 468.92,633.5 462.92,639.5 456.92,633.5" fill="#7030A0"/>
<polygon points="485.55,621.5 491.55,627.5 485.55,633.5 479.55,627.5" fill="#7030A0"/>
<polygon points="508.17,619 514.17,625 508.17,631 502.17,625" fill="#7030A0"/>
<polygon points="530.79,619 536.79,625 530.79,631 524.79,625" fill="#7030A0"/>
<polygon points="553.42,622.6 559.42,628.6 553.42,634.6 547.42,628.6" fill="#7030A0"/>
<polygon points="576.04,621.4 582.04,627.4 576.04,633.4 570.04,627.4" fill="#7030A0"/>
<polygon points="598.67,614 604.67,620 598.67,626 592.67,620" fill="#7030A0"/>
<polygon points="621.29,615.5 627.29,621.5 621.29,627.5 615.29,621.5" fill="#7030A0"/>
<polygon points="643.92,615.5 649.92,621.5 643.92,627.5 637.92,621.5" fill="#7030A0"/>
<polygon points="666.54,615 672.54,621 666.54,627 660.54,621" fill="#7030A0"/>
<polygon points="689.16,590.5 695.16,596.5 689.16,602.5 683.16,596.5" fill="#7030A0"/>
<polygon points="711.79,605.8 717.79,611.8 711.79,617.8 705.79,611.8" fill="#7030A0"/>
<circle cx="78.31" cy="622" r="5.25" fill="#FFC000"/>
<circle cx="100.94" cy="627" r="5.25" fill="#FFC000"/>
<circle cx="123.56" cy="627" r="5.25" fill="#FFC000"/>
<circle cx="146.18" cy="622.9" r="5.25" fill="#FFC000"/>
<circle cx="168.81" cy="624.5" r="5.25" fill="#FFC000"/>
<circle cx="191.43" cy="624.8" r="5.25" fill="#FFC000"/>
<circle cx="214.06" cy="622.3" r="5.25" fill="#FFC000"/>
<circle cx="236.68" cy="620.6" r="5.25" fill="#FFC000"/>
<circle cx="259.31" cy="621.4" r="5.25" fill="#FFC000"/>
<circle cx="281.93" cy="618.3" r="5.25" fill="#FFC000"/>
<circle cx="304.55" cy="628.9" r="5.25" fill="#FFC000"/>
<circle cx="327.18" cy="629.4" r="5.25" fill="#FFC000"/>
<circle cx="349.8" cy="621.4" r="5.25" fill="#FFC000"/>
<circle cx="372.43" cy="626" r="5.25" fill="#FFC000"/>
<circle cx="395.05" cy="622.5" r="5.25" fill="#FFC000"/>
<circle cx="417.67" cy="626.5" r="5.25" fill="#FFC000"/>
<circle cx="440.3" cy="620.2" r="5.25" fill="#FFC000"/>
<circle cx="462.92" cy="630" r="5.25" fill="#FFC000"/>
<circle cx="485.55" cy="622.9" r="5.25" fill="#FFC000"/>
<circle cx="508.17" cy="624" r="5.25" fill="#FFC000"/>
<circle cx="530.79" cy="620.5" r="5.25" fill="#FFC000"/>
<circle cx="553.42" cy="628.5" r="5.25" fill="#FFC000"/>
<circle cx="576.04" cy="626" r="5.25" fill="#FFC000"/>
<circle cx="598.67" cy="616.4" r="5.25" fill="#FFC000"/>
<rect x="76.71" y="567.6" width="7.6" height="3.4" fill="#A04D06"/>
<rect x="99.34" y="570.2" width="7.6" height="3.4" fill="#A04D06"/>
<rect x="121.96" y="563.3" width="7.6" height="3.4" fill="#A04D06"/>
<rect x="144.58" y="566.4" width="7.6" height="3.4" fill="#A04D06"/>
<rect x="167.21" y="555.9" width="7.6" height="3.4" fill="#A04D06"/>
<rect x="189.83" y="549.8" width="7.6" height="3.4" fill="#A04D06"/>
<rect x="212.46" y="559.7" width="7.6" height="3.4" fill="#A04D06"/>
<rect x="235.08" y="563.4" width="7.6" height="3.4" fill="#A04D06"/>
<rect x="257.71" y="542.8" width="7.6" height="3.4" fill="#A04D06"/>
<rect x="280.33" y="549.4" width="7.6" height="3.4" fill="#A04D06"/>
<rect x="302.95" y="542.9" width="7.6" height="3.4" fill="#A04D06"/>
<rect x="325.58" y="537.6" width="7.6" height="3.4" fill="#A04D06"/>
<rect x="348.2" y="534.3" width="7.6" height="3.4" fill="#A04D06"/>
<rect x="370.83" y="531.1" width="7.6" height="3.4" fill="#A04D06"/>
<rect x="393.45" y="539.3" width="7.6" height="3.4" fill="#A04D06"/>
<rect x="416.07" y="533.3" width="7.6" height="3.4" fill="#A04D06"/>
<rect x="438.7" y="522.3" width="7.6" height="3.4" fill="#A04D06"/>
<rect x="461.32" y="552.5" width="7.6" height="3.4" fill="#A04D06"/>
<rect x="483.95" y="512.2" width="7.6" height="3.4" fill="#A04D06"/>
<rect x="506.57" y="522" width="7.6" height="3.4" fill="#A04D06"/>
<rect x="529.19" y="506.1" width="7.6" height="3.4" fill="#A04D06"/>
<rect x="551.82" y="498" width="7.6" height="3.4" fill="#A04D06"/>
<rect x="574.44" y="481.8" width="7.6" height="3.4" fill="#A04D06"/>
<rect x="597.07" y="509.3" width="7.6" height="3.4" fill="#A04D06"/>
<rect x="72.06" y="618.55" width="12.5" height="12.5" fill="#FF0000"/>
<rect x="94.69" y="618.55" width="12.5" height="12.5" fill="#FF0000"/>
<rect x="117.31" y="617.45" width="12.5" height="12.5" fill="#FF0000"/>
<rect x="139.93" y="618.95" width="12.5" height="12.5" fill="#FF0000"/>
<rect x="162.56" y="619.85" width="12.5" height="12.5" fill="#FF0000"/>
<rect x="185.18" y="619.95" width="12.5" height="12.5" fill="#FF0000"/>
<rect x="207.81" y="617.85" width="12.5" height="12.5" fill="#FF0000"/>
<rect x="230.43" y="619.65" width="12.5" height="12.5" fill="#FF0000"/>
<rect x="253.06" y="618.45" width="12.5" height="12.5" fill="#FF0000"/>
<rect x="275.68" y="617.85" width="12.5" height="12.5" fill="#FF0000"/>
<rect x="298.3" y="616.25" width="12.5" height="12.5" fill="#FF0000"/>
<rect x="320.93" y="620.45" width="12.5" height="12.5" fill="#FF0000"/>
<rect x="343.55" y="620.45" width="12.5" height="12.5" fill="#FF0000"/>
<rect x="366.18" y="619.95" width="12.5" height="12.5" fill="#FF0000"/>
<rect x="388.8" y="617.75" width="12.5" height="12.5" fill="#FF0000"/>
<rect x="411.42" y="617.35" width="12.5" height="12.5" fill="#FF0000"/>
<rect x="434.05" y="618.65" width="12.5" height="12.5" fill="#FF0000"/>
<rect x="456.67" y="620.75" width="12.5" height="12.5" fill="#FF0000"/>
<rect x="479.3" y="619.25" width="12.5" height="12.5" fill="#FF0000"/>
<rect x="501.92" y="616.95" width="12.5" height="12.5" fill="#FF0000"/>
<rect x="524.54" y="616.15" width="12.5" height="12.5" fill="#FF0000"/>
<rect x="547.17" y="618.85" width="12.5" height="12.5" fill="#FF0000"/>
<rect x="569.79" y="619.45" width="12.5" height="12.5" fill="#FF0000"/>
<rect x="592.42" y="619.75" width="12.5" height="12.5" fill="#FF0000"/>
<rect x="615.04" y="617.55" width="12.5" height="12.5" fill="#FF0000"/>
<rect x="637.67" y="616.15" width="12.5" height="12.5" fill="#FF0000"/>
<rect x="660.29" y="621.75" width="12.5" height="12.5" fill="#FF0000"/>
<rect x="682.91" y="616.75" width="12.5" height="12.5" fill="#FF0000"/>
<rect x="705.54" y="618.15" width="12.5" height="12.5" fill="#FF0000"/>
</svg>
</body></html>
